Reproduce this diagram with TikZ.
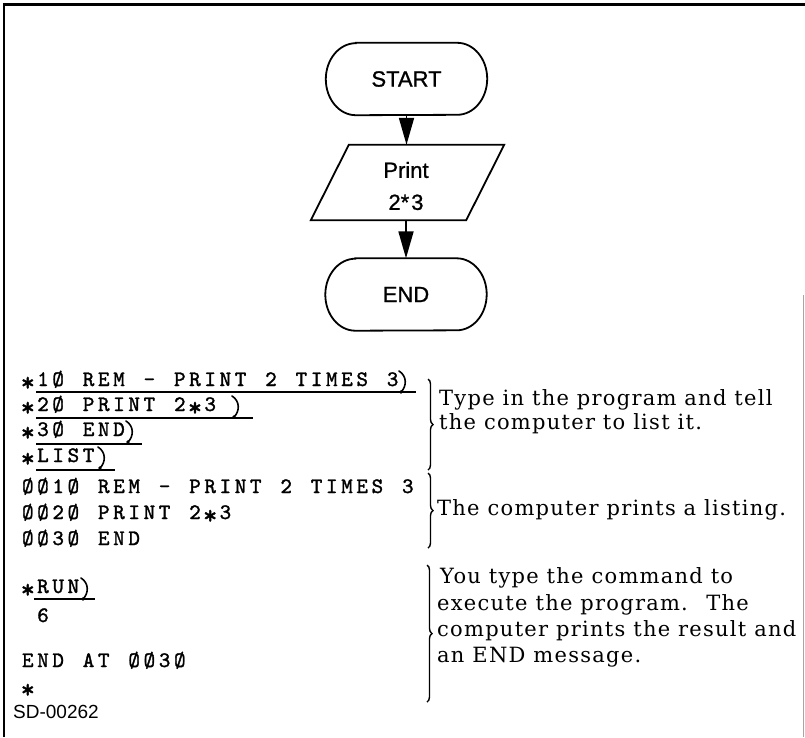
\documentclass[tikz,border=0pt]{standalone}
\usepackage{fontspec}
\usetikzlibrary{arrows.meta,decorations.pathreplacing}
\newfontfamily\flowfont{Liberation Sans}[FakeBold=1]
\newfontfamily\codefont{Liberation Sans}
\newfontfamily\notefont{DejaVu Serif}[LetterSpace=6]
\newfontfamily\typefont{lmmono10-regular.otf}[FakeBold=1.5]

% the teletype asterisk is larger and sits lower than the font's own
\newcommand\typestar{\smash{\raisebox{-5pt}{\fontsize{27}{27}\selectfont *}}}

% typewriter output: every character in a cell of fixed pitch
\ExplSyntaxOn
\NewDocumentCommand \typewrite { m }
  {
    \str_map_inline:nn { #1 }
      { \makebox[15.2pt][c]{ \str_if_eq:nnTF { ##1 } { * } { \typestar } { ##1 } } }
  }
\ExplSyntaxOff

\tikzset{
  outline/.style={line width=1.8pt},
  flowlabel/.style={font=\flowfont\fontsize{22}{32}\selectfont, align=center, inner sep=0pt},
  terminal/.style={flowlabel, minimum width=161pt, minimum height=72pt},
  flowarrow/.style={line width=1.8pt, -{Triangle[length=27pt,width=15pt]}},
  typed/.style={font=\typefont\fontsize{22}{25}\selectfont, anchor=base west, inner sep=0pt},
  note/.style={font=\notefont\fontsize{21}{26}\selectfont, anchor=base west, inner sep=0pt},
  typeline/.style={line width=1.4pt},
  bracket/.style={decorate, decoration={brace, amplitude=5pt}, line width=1.4pt},
  pics/crmark/.style={code={
    \draw[line width=1.6pt, line cap=round] (1,15) .. controls (9,10) and (9,0) .. (3,-6);
    \fill (3,-6) circle (1.8pt);
  }},
}

% rounded START/END outline around a named node
\newcommand\terminaloutline[1]{%
  \draw[outline] ([xshift=30pt]#1.north west) -- ([xshift=-30pt]#1.north east)
    arc[start angle=90, end angle=-90, x radius=30pt, y radius=36pt]
    -- ([xshift=30pt]#1.south west)
    arc[start angle=270, end angle=90, x radius=30pt, y radius=36pt] -- cycle;}

\begin{document}
\begin{tikzpicture}[x=1pt, y=1pt]
\useasboundingbox (0,-737) rectangle (805,0);

% frame
\draw[line width=2.6pt] (4,-737) -- (4,-4.5) -- (805,-4.5);
\draw[gray!70, line width=0.8pt] (803.5,-295) -- (803.5,-737);

% flowchart
\node[terminal] (start) at (406.5,-79) {START};
\terminaloutline{start}
\node[minimum width=155pt, minimum height=75pt, inner sep=0pt] (print) at (407.5,-182.5) {};
\draw[outline] ([xshift=19pt]print.north west) -- ([xshift=19pt]print.north east)
  -- ([xshift=-19pt]print.south east) -- ([xshift=-19pt]print.south west) -- cycle;
\node[flowlabel] (printtext) at (406,-186) {Print\\2*\kern2pt 3};
\node[terminal] (end) at (406,-294.5) {END};
\terminaloutline{end}
\draw[flowarrow] (start.south) -- (start.south |- print.north);
\draw[flowarrow] (print.south -| end.north) -- (end.north);

% typed program
\node[typed] (l1) at (20,-386) {\typewrite{*1Ø REM - PRINT 2 TIMES 3}};
\node[typed] (l2) at (20,-411) {\typewrite{*2Ø PRINT 2*3}};
\node[typed] (l3) at (20,-436) {\typewrite{*3Ø END}};
\node[typed] (l4) at (20,-462) {\typewrite{*LIST}};
\draw[typeline] (36,-392) -- (416,-392);
\draw[typeline] (36,-418) -- (253,-418);
\draw[typeline] (36,-444) -- (142,-444);
\draw[typeline] (36,-470) -- (115,-470);
\pic at (398,-386) {crmark};
\pic at (231,-411) {crmark};
\pic at (125,-436) {crmark};
\pic at (97,-462) {crmark};

% listing
\node[typed] (l5) at (20,-493) {\typewrite{ØØ1Ø REM - PRINT 2 TIMES 3}};
\node[typed] (l6) at (20,-519) {\typewrite{ØØ2Ø PRINT 2*3}};
\node[typed] (l7) at (20,-545) {\typewrite{ØØ3Ø END}};

% run
\node[typed] (run) at (20,-593) {\typewrite{*RUN}};
\draw[typeline] (34,-599) -- (95,-599);
\pic at (80,-593) {crmark};
\node[typed] (result) at (35.2,-622) {\typewrite{6}};
\node[typed] (endat) at (20,-667) {\typewrite{END AT ØØ3Ø}};
\node[typed] (prompt) at (20,-693) {\typewrite{*}};

\node[font=\codefont\fontsize{19}{22}\selectfont, anchor=base west, inner sep=0pt] (code) at (13,-718) {SD-00262};

% braces and notes
\draw[bracket] (428,-379) -- (428,-470);
\draw[bracket] (428,-473) -- (428,-548);
\draw[bracket] (427,-565) -- (427,-702);

\node[note] (n1) at (439,-405) {Type in the program and tell};
\node[note] (n2) at (439,-429) {the computer to list it.};
\node[note] (n3) at (437,-515) {The computer prints a listing.};
\node[note] (n4) at (440,-583) {You type the command to};
\node[note] (n5) at (437,-610) {execute the program.~ The};
\node[note] (n6) at (437,-636) {computer prints the result and};
\node[note] (n7) at (437,-662) {an END message.};
\end{tikzpicture}
\end{document}
